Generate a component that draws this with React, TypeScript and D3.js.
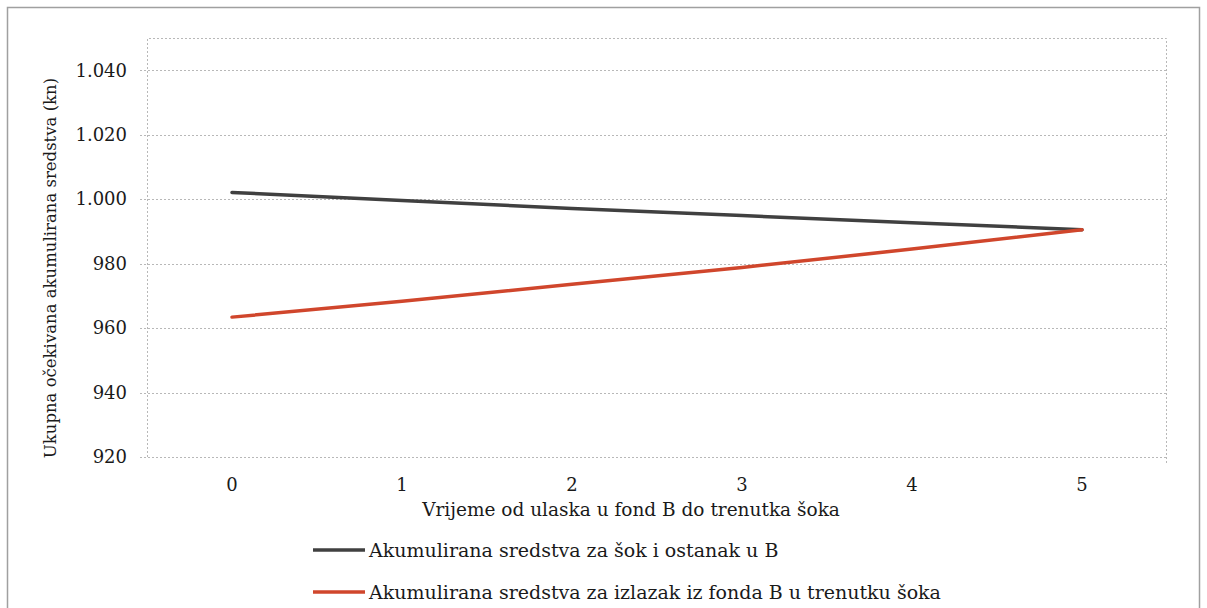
import * as d3 from "d3";
import { useEffect, useRef } from "react";

// chart values
const years = ["0", "1", "2", "3", "4", "5"];
const stayValues = [1002.1, 999.6, 997.1, 994.9, 992.7, 990.5];
const exitValues = [963.4, 968.3, 973.6, 978.8, 984.5, 990.5];
const yTicks = [920, 940, 960, 980, 1000, 1020, 1040];
const seriesNames = [
  "Akumulirana sredstva za šok i ostanak u B",
  "Akumulirana sredstva za izlazak iz fonda B u trenutku šoka",
];
const seriesColors = ["#404040", "#d0462c"];

const totalWidth = 1207;
const totalHeight = 608;
const margin = { top: 38, right: 40, bottom: 151, left: 147 };
const FONT = "'DejaVu Serif', serif";

export default function App() {
  const ref = useRef(null);

  useEffect(() => {
    draw();
  });

  function draw() {
    const svg = d3.select(ref.current);
    svg.selectAll("*").remove();

    const width = totalWidth - margin.left - margin.right;
    const height = totalHeight - margin.top - margin.bottom;

    // outer chart border
    svg
      .append("rect")
      .attr("x", 7.5)
      .attr("y", 7.5)
      .attr("width", 1192)
      .attr("height", 620)
      .attr("fill", "white")
      .attr("stroke", "#a0a0a0")
      .attr("stroke-width", 1.5);

    const plot = svg
      .append("g")
      .attr("transform", "translate(" + margin.left + "," + margin.top + ")");

    const x = d3.scaleBand().domain(years).range([0, width]);
    const y = d3.scaleLinear().domain([920, 1050]).range([height, 0]);

    // grid lines
    plot
      .append("g")
      .selectAll("line")
      .data(yTicks)
      .enter()
      .append("line")
      .attr("x1", -7)
      .attr("x2", width)
      .attr("y1", (d) => Math.round(y(d)) + 0.5)
      .attr("y2", (d) => Math.round(y(d)) + 0.5)
      .attr("stroke", "#b8b8b8")
      .attr("stroke-dasharray", "2,2");

    // plot frame (top, left, right)
    plot
      .append("path")
      .attr("d", `M0.5,${height} V0.5 H${width - 0.5} V${height + 7}`)
      .attr("fill", "none")
      .attr("stroke", "#b8b8b8")
      .attr("stroke-dasharray", "2,2");

    // y tick labels
    plot
      .append("g")
      .selectAll("text")
      .data(yTicks)
      .enter()
      .append("text")
      .attr("x", -20)
      .attr("y", (d) => y(d))
      .attr("dy", "0.35em")
      .attr("text-anchor", "end")
      .attr("font-family", FONT)
      .attr("font-size", 18)
      .attr("fill", "#1a1a1a")
      .text((d) => d3.format(",")(d).replace(",", "."));

    // x tick labels
    plot
      .append("g")
      .selectAll("text")
      .data(years)
      .enter()
      .append("text")
      .attr("x", (d) => x(d)! + x.bandwidth() / 2)
      .attr("y", height + 34)
      .attr("text-anchor", "middle")
      .attr("font-family", FONT)
      .attr("font-size", 18)
      .attr("fill", "#1a1a1a")
      .text((d) => d);

    // axis titles
    plot
      .append("text")
      .attr("x", 484)
      .attr("y", height + 59)
      .attr("text-anchor", "middle")
      .attr("font-family", FONT)
      .attr("font-size", 18.5)
      .attr("fill", "#1a1a1a")
      .text("Vrijeme od ulaska u fond B do trenutka šoka");

    plot
      .append("text")
      .attr("transform", "rotate(-90)")
      .attr("x", -230)
      .attr("y", -91)
      .attr("text-anchor", "middle")
      .attr("font-family", FONT)
      .attr("font-size", 16.5)
      .attr("fill", "#1a1a1a")
      .text("Ukupna očekivana akumulirana sredstva (kn)");

    // series lines
    const line = d3
      .line<number>()
      .x((_, i) => x(years[i])! + x.bandwidth() / 2)
      .y((d) => y(d));

    [stayValues, exitValues].forEach((vals, i) => {
      plot
        .append("path")
        .datum(vals)
        .attr("fill", "none")
        .attr("stroke", seriesColors[i])
        .attr("stroke-width", 3.5)
        .attr("stroke-linecap", "round")
        .attr("d", line);
    });

    // legend
    const legend = svg.append("g");
    seriesNames.forEach((name, i) => {
      const ly = 550 + i * 42;
      legend
        .append("line")
        .attr("x1", 313)
        .attr("x2", 365)
        .attr("y1", ly)
        .attr("y2", ly)
        .attr("stroke", seriesColors[i])
        .attr("stroke-width", 3.5);
      legend
        .append("text")
        .attr("x", 369)
        .attr("y", ly)
        .attr("dy", "0.35em")
        .attr("font-family", FONT)
        .attr("font-size", 19)
        .attr("fill", "#1a1a1a")
        .text(name);
    });
  }

  return (
    <svg
      width={totalWidth}
      height={totalHeight}
      ref={ref}
      style={{ position: "absolute", left: 0, top: 0 }}
    ></svg>
  );
}
